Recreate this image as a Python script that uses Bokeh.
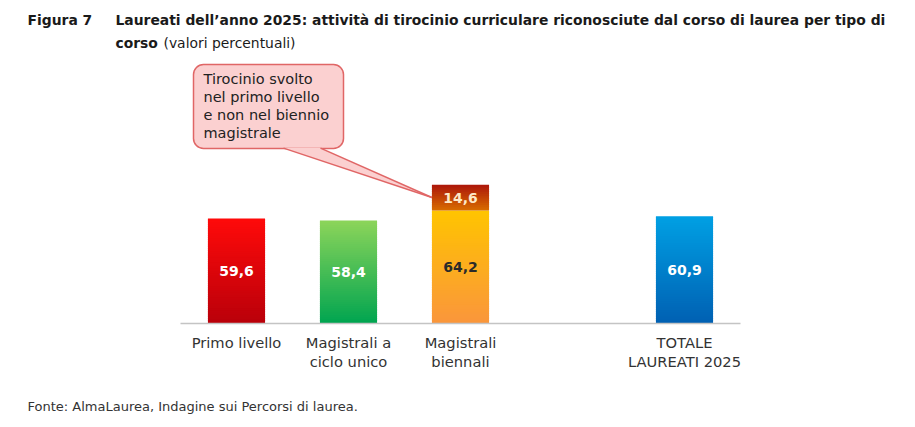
from bokeh.plotting import figure
from bokeh.models import Range1d, ColumnDataSource, BoxAnnotation
from bokeh.core.properties import value
from bokeh.embed import file_html
from bokeh.resources import INLINE

# --- data ---------------------------------------------------------------
categories = ["Primo livello", "Magistrali a\nciclo unico", "Magistrali\nbiennali", "", "TOTALE\nLAUREATI 2025"]
bar_categories = ["Primo livello", "Magistrali a\nciclo unico", "Magistrali\nbiennali", "TOTALE\nLAUREATI 2025"]
base_values = [59.6, 58.4, 64.2, 60.9]
extra_category = "Magistrali\nbiennali"
extra_value = 14.6  # tirocinio svolto nel primo livello

title_lead = "Figura 7"
title_line1 = "Laureati dell\u2019anno 2025: attivit\u00e0 di tirocinio curriculare riconosciute dal corso di laurea per tipo di"
title_line2_bold = "corso"
title_line2 = "(valori percentuali)"
source_note = "Fonte: AlmaLaurea, Indagine sui Percorsi di laurea."
callout_text = "Tirocinio svolto\nnel primo livello\ne non nel biennio\nmagistrale"

# gradient (top colour, bottom colour) for each bar
base_gradients = [
    ((255, 10, 10), (185, 0, 10)),
    ((140, 212, 90), (0, 165, 80)),
    ((255, 196, 0), (250, 150, 60)),
    ((0, 160, 228), (0, 96, 178)),
]
extra_gradient = ((172, 22, 10), (216, 108, 0))
label_colors = ["white", "white", "#2a2a2a", "white"]
extra_label_color = "#fde9c8"

# --- layout: the plotting frame covers the whole canvas ------------------
W, H = 915, 427
ORIGIN_X, ORIGIN_Y = 180, 323      # canvas pixel of (left end of axis, y = 0)
SLOT_PX = 112                      # pixel width of one category slot
PX_PER_UNIT = 1.762                # pixels per percentage point
BAR_W = 0.51

FONT = "DejaVu Sans"

p = figure(
    x_range=Range1d(-ORIGIN_X / SLOT_PX, (W - ORIGIN_X) / SLOT_PX),
    y_range=Range1d((ORIGIN_Y - H) / PX_PER_UNIT, ORIGIN_Y / PX_PER_UNIT),
    width=W, height=H,
    output_backend="svg", toolbar_location=None,
    min_border=0,
)
p.outline_line_color = None
p.background_fill_color = "white"
p.border_fill_color = "white"
p.grid.visible = False
p.axis.visible = False


def sx(px):
    """canvas pixel x -> data x"""
    return (px - ORIGIN_X) / SLOT_PX


def sy(py):
    """canvas pixel y -> data y"""
    return (ORIGIN_Y - py) / PX_PER_UNIT


def mix(c1, c2, t):
    return "#%02x%02x%02x" % tuple(int(round(a + (b - a) * t)) for a, b in zip(c1, c2))


def pos(cat):
    return categories.index(cat) + 0.5


def gradient_slices(cat, bottom, top, grad, n=48):
    xs, bs, ts, cs = [], [], [], []
    step = (top - bottom) / n
    for i in range(n):
        xs.append(pos(cat))
        bs.append(bottom + i * step)
        ts.append(min(top, bottom + (i + 1.6) * step))
        cs.append(mix(grad[1], grad[0], (i + 0.5) / n))
    return xs, bs, ts, cs


xs, bs, ts, cs = [], [], [], []
for cat, v, g in zip(bar_categories, base_values, base_gradients):
    a, b, c, d = gradient_slices(cat, 0, v, g)
    xs += a; bs += b; ts += c; cs += d
extra_base = base_values[bar_categories.index(extra_category)]
a, b, c, d = gradient_slices(extra_category, extra_base, extra_base + extra_value, extra_gradient, n=14)
xs += a; bs += b; ts += c; cs += d

src = ColumnDataSource(dict(x=xs, bottom=bs, top=ts, color=cs))
p.vbar(x="x", bottom="bottom", top="top", width=BAR_W, fill_color="color",
       line_color=None, source=src)

# category axis: baseline and labels
p.segment(x0=[0], y0=[0], x1=[len(categories)], y1=[0], line_color="#c4c4c4", line_width=1.5)
p.text(x=[i + 0.5 for i in range(len(categories))], y=[sy(333)] * len(categories), text=categories,
       text_font=value(FONT), text_font_size="14.7px", text_color="#333333",
       text_align="center", text_baseline="top", text_line_height=1.12)

# value labels in the middle of each segment
lsrc = ColumnDataSource(dict(
    x=[pos(c) for c in bar_categories] + [pos(extra_category)],
    y=[v / 2 for v in base_values] + [extra_base + extra_value / 2],
    text=[f"{v:.1f}".replace(".", ",") for v in base_values] + [f"{extra_value:.1f}".replace(".", ",")],
    color=label_colors + [extra_label_color],
))
p.text(x="x", y="y", text="text", text_color="color", source=lsrc, text_font=value(FONT),
       text_align="center", text_baseline="middle", text_font_size="14px", text_font_style="bold")

# callout box with its pointer towards the extra segment
callout_fill = "#fbd0d0"
callout_line = "#e06666"
box = BoxAnnotation(left=sx(193), right=sx(343), top=sy(64), bottom=sy(148),
                    fill_color=callout_fill, fill_alpha=1.0, line_color=callout_line,
                    line_alpha=1.0, line_width=1.5, border_radius=10, level="underlay")
p.add_layout(box)

tip_x = pos(extra_category) - BAR_W / 2
tip_y = extra_base + extra_value / 2
tail_x = [sx(283), sx(320), tip_x]
tail_y = [sy(147.6), sy(147.6), tip_y]
p.patch(x=tail_x + [tail_x[0]], y=tail_y + [tail_y[0]], fill_color=callout_fill, line_color=None)
p.line(x=[tail_x[0], tip_x], y=[tail_y[0], tip_y], line_color=callout_line, line_width=1.5)
p.line(x=[tail_x[1], tip_x], y=[tail_y[1], tip_y], line_color=callout_line, line_width=1.5)

p.text(x=[sx(203)], y=[sy(70)], text=[callout_text], text_font=value(FONT),
       text_font_size="14.5px", text_color="#222222", text_align="left", text_baseline="top",
       text_line_height=1.13)

# title and source note
p.text(x=[sx(27), sx(115), sx(115)], y=[sy(19), sy(19), sy(42)],
       text=[title_lead, title_line1, title_line2_bold], text_font=value(FONT),
       text_font_size="13.88px", text_font_style="bold", text_color="#1a1a1a",
       text_align="left", text_baseline="middle")
p.text(x=[sx(163)], y=[sy(42)], text=[title_line2], text_font=value(FONT),
       text_font_size="13.88px", text_color="#1a1a1a", text_align="left", text_baseline="middle")
p.text(x=[sx(27)], y=[sy(406)], text=[source_note], text_font=value(FONT),
       text_font_size="13px", text_color="#333333", text_align="left", text_baseline="middle")

open("out.html", "w").write(file_html(p, INLINE))
